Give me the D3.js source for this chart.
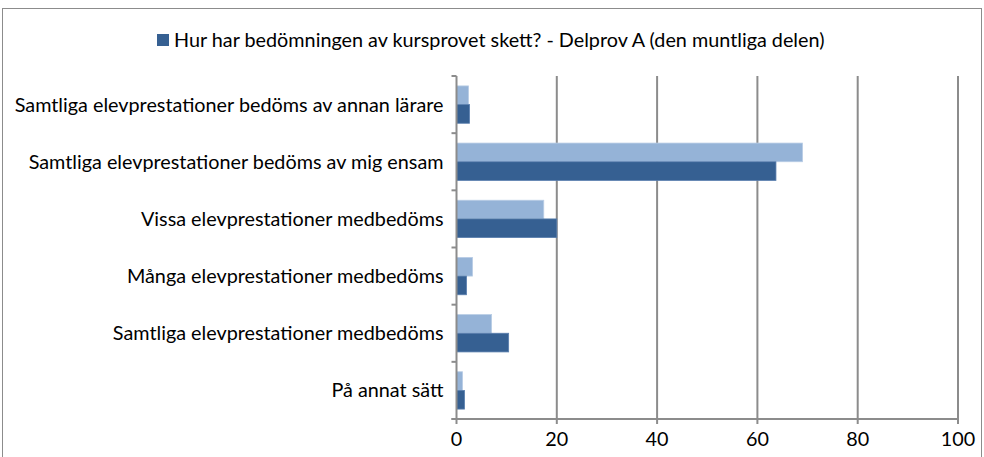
<!DOCTYPE html>
<html>
<head>
<meta charset="utf-8" />
<title>Kursprov Delprov A</title>
<script type="text/javascript" src="https://d3js.org/d3.v7.min.js"></script>
<style type="text/css">
    body { margin: 0; background: #fff; }
    text { font-family: Lato, "Open Sans", sans-serif; fill: #000; }
</style>
</head>
<body>
<svg width="984" height="457"></svg>
<script>
    var W = 984, H = 457;

    // data (percent)
    var categories = [
        "Samtliga elevprestationer bedöms av annan lärare",
        "Samtliga elevprestationer bedöms av mig ensam",
        "Vissa elevprestationer medbedöms",
        "Många elevprestationer medbedöms",
        "Samtliga elevprestationer medbedöms",
        "På annat sätt"
    ];
    var lightValues = [2.4, 69.0, 17.4, 3.2, 7.0, 1.2];
    var darkValues = [2.6, 63.7, 20.0, 2.0, 10.4, 1.6];
    var tickValues = [0, 20, 40, 60, 80, 100];
    var legendLabel = "Hur har bedömningen av kursprovet skett? - Delprov A (den muntliga delen)";

    var light = "#95b3d7", dark = "#366092", grid = "#8c8c8c";
    var fs = "19.8px";

    var svg = d3.select("svg");

    // chart border
    svg.append("rect")
        .attr("x", 2.5).attr("y", 8.5)
        .attr("width", W - 5).attr("height", H)
        .attr("fill", "none").attr("stroke", "#8c8c8c");

    var x = d3.scaleLinear().domain([0, 100]).range([456.5, 958]);
    var y = d3.scaleBand().domain(categories).range([76, 419]);
    var sub = d3.scaleBand().domain(["light", "dark"]).range([0, y.bandwidth()]).paddingOuter(0.53).paddingInner(0);

    // gridlines
    svg.append("g").selectAll("line")
        .data(tickValues.slice(1))
        .enter().append("line")
        .attr("x1", d => x(d)).attr("x2", d => x(d))
        .attr("y1", 76).attr("y2", 419)
        .attr("stroke", grid).attr("stroke-width", 2);

    // bars
    var groups = svg.append("g").selectAll("g")
        .data(categories)
        .enter().append("g")
        .attr("transform", d => "translate(0," + y(d) + ")");

    groups.append("rect")
        .attr("x", x(0))
        .attr("y", sub("light"))
        .attr("width", (d, i) => x(lightValues[i]) - x(0))
        .attr("height", sub.bandwidth())
        .attr("fill", light)
        .attr("stroke", "#b9cde5").attr("stroke-width", 0.8);

    groups.append("rect")
        .attr("x", x(0))
        .attr("y", sub("dark"))
        .attr("width", (d, i) => x(darkValues[i]) - x(0))
        .attr("height", sub.bandwidth())
        .attr("fill", dark)
        .attr("stroke", "#5a7fae").attr("stroke-width", 0.8);

    // category axis
    var yAxis = svg.append("g")
        .attr("transform", "translate(" + x(0) + ",0)");
    yAxis.append("line")
        .attr("x1", 0).attr("x2", 0).attr("y1", 76).attr("y2", 419)
        .attr("stroke", grid).attr("stroke-width", 2);
    yAxis.selectAll(".tk")
        .data(categories.concat(["end"]))
        .enter().append("line")
        .attr("x1", -5).attr("x2", 0)
        .attr("y1", (d, i) => 76 + i * y.step())
        .attr("y2", (d, i) => 76 + i * y.step())
        .attr("stroke", grid).attr("stroke-width", 2);
    yAxis.selectAll("text")
        .data(categories)
        .enter().append("text")
        .attr("x", -13)
        .attr("y", d => y(d) + y.bandwidth() / 2)
        .attr("dy", "0.35em")
        .attr("text-anchor", "end")
        .style("font-size", fs)
        .text(d => d);

    // value axis
    var xAxis = svg.append("g").attr("transform", "translate(0,419)");
    xAxis.append("line")
        .attr("x1", x(0) - 5).attr("x2", x(100))
        .attr("stroke", grid).attr("stroke-width", 2);
    xAxis.selectAll(".tk")
        .data(tickValues)
        .enter().append("line")
        .attr("x1", d => x(d)).attr("x2", d => x(d))
        .attr("y1", 0).attr("y2", 5)
        .attr("stroke", grid).attr("stroke-width", 2);
    xAxis.selectAll("text")
        .data(tickValues)
        .enter().append("text")
        .attr("x", d => x(d))
        .attr("y", 27)
        .attr("text-anchor", "middle")
        .style("font-size", fs)
        .text(d => d);

    // legend
    var legend = svg.append("g");
    legend.append("rect")
        .attr("x", 157).attr("y", 34).attr("width", 12).attr("height", 12)
        .attr("fill", dark);
    legend.append("text")
        .attr("x", 174).attr("y", 40)
        .attr("dy", "0.35em")
        .style("font-size", fs)
        .text(legendLabel);
</script>
</body>
</html>
